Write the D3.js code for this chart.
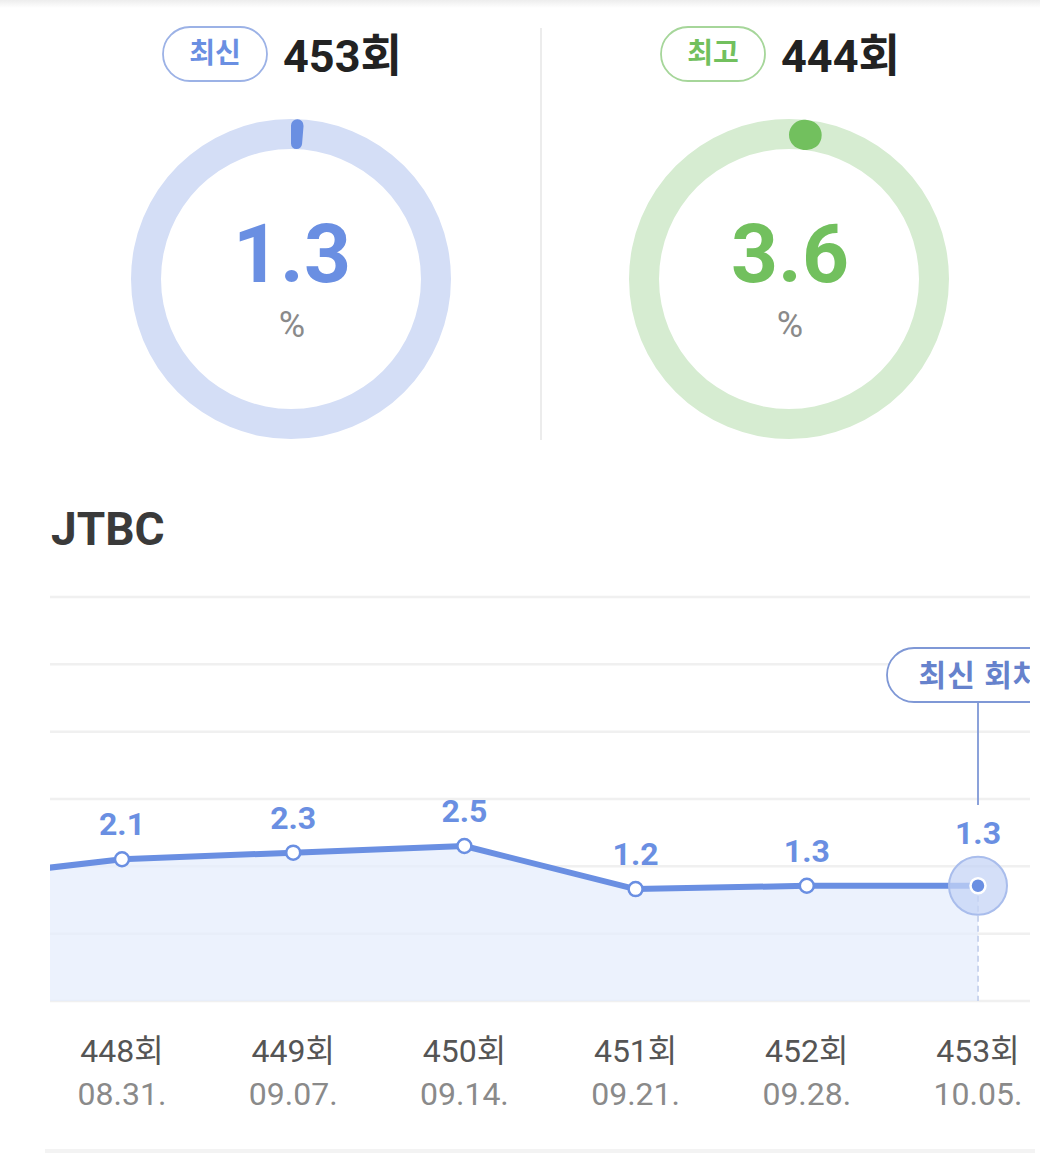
<!DOCTYPE html>
<html><head><meta charset="utf-8">
<script src="https://cdn.jsdelivr.net/npm/d3@7"></script>
<style>
html,body{margin:0;padding:0;background:#fff;}
svg{display:block;font-family:Roboto,"Noto Sans CJK KR",sans-serif;}
</style></head>
<body>
<svg id="c" width="1040" height="1163"></svg>
<script>
// ---- data ----
const gaugeLabels = ["최신", "최고"];
const gaugeEpisodes = ["453회", "444회"];
const gaugeValues = [1.3, 3.6];
const channel = "JTBC";
const episodes = ["447회", "448회", "449회", "450회", "451회", "452회", "453회"];
const dates = ["", "08.31.", "09.07.", "09.14.", "09.21.", "09.28.", "10.05."];
const ratings = [1.5, 2.1, 2.3, 2.5, 1.2, 1.3, 1.3];
const calloutText = "최신 회차";

const svg = d3.select("#c");
const W = 1040;

// top faint shadow
const defs = svg.append("defs");
const g0 = defs.append("linearGradient").attr("id","topg").attr("x1",0).attr("x2",0).attr("y1",0).attr("y2",1);
g0.append("stop").attr("offset","0%").attr("stop-color","#ededed");
g0.append("stop").attr("offset","100%").attr("stop-color","#fff");
svg.append("rect").attr("x",0).attr("y",0).attr("width",W).attr("height",8).attr("fill","url(#topg)");

// ---- gauges ----
const themes = [
  {main:"#6a8fe2", light:"#d4def6", pill:"#9cb2e6", text:"#6a8fe2"},
  {main:"#72c05e", light:"#d6ecd1", pill:"#a6d69a", text:"#72c05e"}
];
const gaugeCx = [291, 789];
const gaugeCy = 279;
const angle = d3.scaleLinear().domain([0,100]).range([0, 2*Math.PI]);

gaugeValues.forEach((v,i)=>{
  const t = themes[i];
  const cx = gaugeCx[i];
  const g = svg.append("g").attr("transform",`translate(${cx},${gaugeCy})`);
  g.append("path")
    .attr("d", d3.arc().innerRadius(130).outerRadius(160).startAngle(0).endAngle(2*Math.PI)())
    .attr("fill", t.light);
  g.append("path")
    .attr("d", d3.arc().innerRadius(130).outerRadius(160).cornerRadius(15).startAngle(0).endAngle(angle(v))())
    .attr("fill", t.main);
  g.append("text").attr("x",1).attr("y",3).attr("text-anchor","middle")
    .attr("font-size",82).attr("font-weight",700).attr("fill",t.main).text(v.toFixed(1));
  g.append("text").attr("x",1).attr("y",58).attr("text-anchor","middle")
    .attr("font-size",36).attr("fill","#8a8a8a").text("%");

  // pill badge + episode
  const px = cx - 128, py = 27, pw = 104, ph = 54;
  svg.append("rect").attr("x",px).attr("y",py).attr("width",pw).attr("height",ph)
    .attr("rx",27).attr("fill","#fff").attr("stroke",t.pill).attr("stroke-width",1.8);
  svg.append("text").attr("x",px+pw/2).attr("y",py+ph/2+9).attr("text-anchor","middle")
    .attr("font-size",28).attr("font-weight",700).attr("fill",t.text).text(gaugeLabels[i]);
  svg.append("text").attr("x",cx-8).attr("y",72)
    .attr("font-size",45).attr("font-weight",700).attr("fill","#222").text(gaugeEpisodes[i]);
});

// divider
svg.append("line").attr("x1",541).attr("x2",541).attr("y1",28).attr("y2",440)
  .attr("stroke","#ececec").attr("stroke-width",2);

// channel title
svg.append("text").attr("x",51).attr("y",545).attr("font-size",46).attr("font-weight",700)
  .attr("fill","#3a3a3a").text(channel);

// ---- line chart ----
const x = d3.scaleLinear().domain([1,6]).range([122,978]);
const y = d3.scaleLinear().domain([-2.18, 10.02]).range([1001, 597]);
const grid = d3.scaleLinear().domain([0,6]).range([1001,597]);

defs.append("clipPath").attr("id","clipc").append("rect")
  .attr("x",50).attr("y",560).attr("width",980).attr("height",460);

const chart = svg.append("g").attr("clip-path","url(#clipc)");

chart.selectAll("line.grid").data(d3.range(7)).join("line").attr("class","grid")
  .attr("x1",50).attr("x2",1030).attr("y1",d=>grid(d)).attr("y2",d=>grid(d))
  .attr("stroke","#f0f0f0").attr("stroke-width",2.5);

const pts = ratings.map((r,i)=>({i, r}));
const lastI = ratings.length - 1;

chart.append("path").datum(pts)
  .attr("d", d3.area().x(d=>x(d.i)).y0(y.range()[0]).y1(d=>y(d.r)))
  .attr("fill","#e6edfc").attr("fill-opacity",0.75);

// dashed drop line at latest point
chart.append("line").attr("x1",x(lastI)).attr("x2",x(lastI))
  .attr("y1",y(ratings[lastI])).attr("y2",1001)
  .attr("stroke","#cad5ee").attr("stroke-width",2).attr("stroke-dasharray","6,4");

chart.append("path").datum(pts)
  .attr("d", d3.line().x(d=>x(d.i)).y(d=>y(d.r)))
  .attr("fill","none").attr("stroke","#6a8fe2").attr("stroke-width",6).attr("stroke-linejoin","round");

// callout
const cxL = x(lastI);
chart.append("line").attr("x1",cxL).attr("x2",cxL).attr("y1",702).attr("y2",805)
  .attr("stroke","#7f98d6").attr("stroke-width",1.8);
chart.append("rect").attr("x",cxL-91).attr("y",648).attr("width",182).attr("height",54)
  .attr("rx",27).attr("fill","#fff").attr("stroke","#7f98d6").attr("stroke-width",1.8);
chart.append("text").attr("x",cxL+2).attr("y",686).attr("text-anchor","middle")
  .attr("font-size",30).attr("font-weight",700).attr("letter-spacing",1).attr("fill","#6682cc").text(calloutText);

// halo at latest
chart.append("circle").attr("cx",cxL).attr("cy",y(ratings[lastI])).attr("r",29)
  .attr("fill","#c5d4f5").attr("fill-opacity",0.75).attr("stroke","#a9bdec").attr("stroke-width",2);

const shown = pts.filter(d=>d.i>=1);
chart.selectAll("circle.pt").data(shown.filter(d=>d.i<lastI)).join("circle").attr("class","pt")
  .attr("cx",d=>x(d.i)).attr("cy",d=>y(d.r)).attr("r",7)
  .attr("fill","#fff").attr("stroke","#6a8fe2").attr("stroke-width",2.5);
chart.append("circle").attr("cx",cxL).attr("cy",y(ratings[lastI])).attr("r",7.5)
  .attr("fill","#6a8fe2").attr("stroke","#fff").attr("stroke-width",2.5);

chart.selectAll("text.val").data(shown).join("text").attr("class","val")
  .attr("x",d=>x(d.i)).attr("y",d=>y(d.r) - (d.i===lastI ? 42 : 24))
  .attr("text-anchor","middle").attr("font-size",32).attr("font-weight",700)
  .attr("fill","#6a8fe2").text(d=>d.r.toFixed(1));

// x labels
const xl = svg.append("g");
xl.selectAll("text.ep").data(shown).join("text").attr("class","ep")
  .attr("x",d=>x(d.i)).attr("y",1062).attr("text-anchor","middle")
  .attr("font-size",32).attr("fill","#555").text(d=>episodes[d.i]);
xl.selectAll("text.dt").data(shown).join("text").attr("class","dt")
  .attr("x",d=>x(d.i)).attr("y",1105).attr("text-anchor","middle")
  .attr("font-size",32).attr("fill","#8a8a8a").text(d=>dates[d.i]);

// bottom separator
svg.append("rect").attr("x",45).attr("y",1149).attr("width",990).attr("height",4).attr("fill","#f3f3f3");
</script>
</body></html>
